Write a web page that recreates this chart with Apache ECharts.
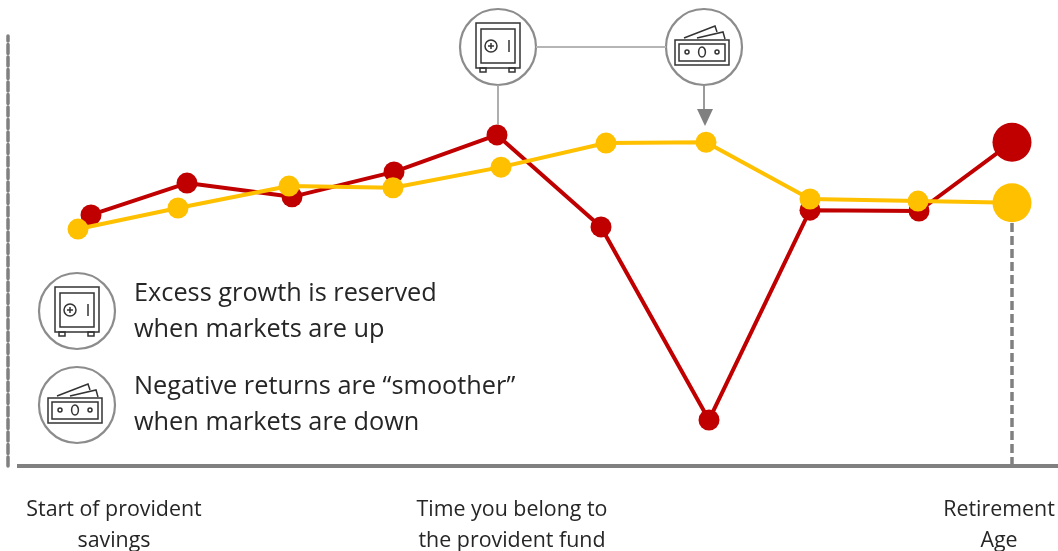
<!DOCTYPE html>
<html>
<head>
<meta charset="utf-8">
<style>html,body{margin:0;padding:0;background:#fff}#chart{width:1058px;height:551px}</style>
<script src="https://cdn.jsdelivr.net/npm/echarts@6/dist/echarts.min.js"></script>
</head>
<body>
<div id="chart"></div>
<script>
// Savings journey, in years since the first contribution against an indexed fund value
const marketYears = [3.32, 7.16, 11.36, 15.44, 19.56, 23.72, 28.04, 32.08, 36.44, 40.16];
const marketValues = [58.4, 65.8, 62.6, 68.4, 77.0, 55.6, 10.7, 59.5, 59.3, 75.3];
const smoothedYears = [2.8, 6.8, 11.24, 15.4, 19.72, 23.92, 27.92, 32.08, 36.4, 40.16];
const smoothedValues = [55.1, 60.0, 65.1, 64.7, 69.5, 75.1, 75.3, 62.1, 61.6, 61.2];
const milestoneYears = [4.24, 20.16, 39.64];
const milestoneLabels = ['Start of provident\nsavings', 'Time you belong to\nthe provident fund', 'Retirement\nAge'];
const legendNotes = ['Excess growth is reserved\nwhen markets are up', 'Negative returns are “smoother”\nwhen markets are down'];

const RED = '#c00000', GOLD = '#ffc000', AXIS = '#808080', RING = '#8c8c8c', INK = '#333333';
const FONT = '"Open Sans", sans-serif';

const pair = (xs, ys) => xs.map((x, i) => [x, ys[i]]);
const lastSized = (size, big) => (v, p) => p.dataIndex === marketYears.length - 1 ? big : size;

// Outline shapes shared by both copies of each icon
const outline = { fill: 'none', stroke: INK, lineWidth: 1.5 };
const rect = (x, y, w, h) => ({ type: 'rect', shape: { x, y, width: w, height: h }, style: outline });
const line = (x1, y1, x2, y2) => ({ type: 'line', shape: { x1, y1, x2, y2 }, style: outline });
const poly = points => ({ type: 'polyline', shape: { points }, style: outline });
const ring = () => ({ type: 'circle', shape: { cx: 0, cy: 0, r: 38 }, style: { fill: '#fff', stroke: RING, lineWidth: 2.2 } });

function safeIcon(x, y) {
  return { type: 'group', x, y, z: 20, children: [
    ring(),
    rect(-22, -24, 44, 45), rect(-17, -18, 34, 34),
    { type: 'circle', shape: { cx: -7, cy: -1, r: 6 }, style: outline },
    line(-10, -1, -4, -1), line(-7, -4, -7, 2),
    line(11, -7, 11, 5),
    rect(-18, 21, 6, 4), rect(11, 21, 6, 4)
  ] };
}
function cashIcon(x, y) {
  return { type: 'group', x, y, z: 20, children: [
    ring(),
    rect(-29, -7, 54, 25), rect(-25, -3, 46, 17),
    { type: 'ellipse', shape: { cx: -2, cy: 5, rx: 3.4, ry: 5 }, style: outline },
    { type: 'circle', shape: { cx: -17, cy: 5, r: 2 }, style: outline },
    { type: 'circle', shape: { cx: 13, cy: 5, r: 2 }, style: outline },
    poly([[-20, -9], [11, -21], [13, -15]]),
    poly([[-7, -9], [19, -15], [21, -8]])
  ] };
}
const connector = (x1, y1, x2, y2, color) => ({
  type: 'line', z: 15, shape: { x1, y1, x2, y2 }, style: { stroke: color, lineWidth: 1.8 }
});
const note = (text, x, y) => ({
  type: 'text', x, y, z: 20,
  style: { text, font: '400 25.3px ' + FONT, fill: '#262626', lineHeight: 36, textVerticalAlign: 'middle' }
});

const chart = echarts.init(document.getElementById('chart'), null, { renderer: 'canvas' });
chart.setOption({
  animation: false,
  backgroundColor: '#fff',
  grid: { left: 8, right: 0, top: 36, bottom: 85, outerBoundsMode: 'none' },
  xAxis: {
    type: 'value', min: 0, max: 42,
    splitLine: { show: false },
    axisLine: { show: false },
    axisTick: { show: false },
    axisLabel: {
      customValues: milestoneYears,
      formatter: v => milestoneLabels[milestoneYears.indexOf(v)],
      color: '#262626', fontFamily: FONT, fontSize: 21.4, lineHeight: 31, margin: 28
    }
  },
  yAxis: {
    type: 'value', min: 0, max: 100,
    splitLine: { show: false },
    axisTick: { show: false },
    axisLabel: { show: false },
    axisLine: { show: true, lineStyle: { color: AXIS, width: 3.5, type: [9, 3.5] } }
  },
  series: [
    {
      name: 'Market returns', type: 'line', z: 3,
      data: pair(marketYears, marketValues),
      symbol: 'circle', symbolSize: lastSized(21, 39), showAllSymbol: true,
      itemStyle: { color: RED }, lineStyle: { color: RED, width: 4 },
      markLine: {
        silent: true, symbol: 'none', z: 1, label: { show: false },
        data: [
          [{ coord: [0.36, 0], lineStyle: { color: AXIS, width: 4, type: 'solid' } }, { coord: [42, 0] }],
          [{ coord: [marketYears[9], 0], lineStyle: { color: AXIS, width: 3.5, type: [9, 4] } },
           { coord: [marketYears[9], smoothedValues[9]] }]
        ]
      }
    },
    {
      name: 'Smoothed returns', type: 'line', z: 4,
      data: pair(smoothedYears, smoothedValues),
      symbol: 'circle', symbolSize: lastSized(21, 39), showAllSymbol: true,
      itemStyle: { color: GOLD }, lineStyle: { color: GOLD, width: 4 }
    }
  ],
  graphic: [
    connector(536, 47, 666, 47, '#b5b5b5'),
    connector(498, 85, 498, 125, '#a6a6a6'),
    connector(704, 85, 704, 110, '#8f8f8f'),
    { type: 'polygon', z: 15, shape: { points: [[697, 109], [713, 109], [705, 126]] }, style: { fill: AXIS } },
    safeIcon(498, 47), cashIcon(704, 47),
    safeIcon(77, 311), cashIcon(77, 405),
    note(legendNotes[0], 134, 312), note(legendNotes[1], 134, 405)
  ]
});
</script>
</body>
</html>
